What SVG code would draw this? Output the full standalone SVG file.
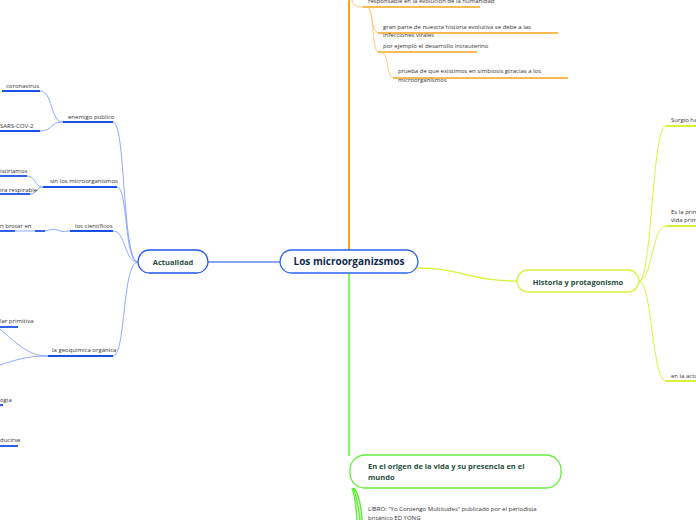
<svg xmlns="http://www.w3.org/2000/svg" width="696" height="520" viewBox="0 0 696 520">
<style>
text{font-family:"Open Sans","Noto Sans","Liberation Sans",sans-serif}
.lbl{font-size:6px;fill:#333}
.node{fill:#fff;stroke-width:1.3}
.title{font-weight:bold;fill:#1f4d3c}
.c{fill:none}
.b1{stroke:#7f9fff;stroke-width:0.9}
.bu{stroke:#1a4fe8;stroke-width:1.8}
.o1{stroke:#f7a21b;stroke-width:2}
.o2{stroke:#ffc97a;stroke-width:1}
.ou{stroke:#f7a21b;stroke-width:1.6}
.y1{stroke:#dcf23c;stroke-width:1}
.yu{stroke:#d4f020;stroke-width:1.8}
.g1{stroke:#62ee3a;stroke-width:1.5}
</style>
<rect width="696" height="520" fill="#fff"/>
<g id="connectors">
<path class="c o1" d="M349,250 V0"/>
<path class="c o2" d="M352,0 C352,5 356,7 363,7"/>
<path class="c ou" d="M363,7 H480"/>
<path class="c o2" d="M368,8 C373,10 371,31 378,33"/>
<path class="c o2" d="M368,8 C374,10 372,50 378,52"/>
<path class="c ou" d="M378,33 H558"/>
<path class="c ou" d="M378,52 H477"/>
<path class="c o2" d="M383,53 C389,55 386,76 393,78"/>
<path class="c ou" d="M393,78 H568"/>
<path class="c g1" d="M349,273 V456"/>
<path class="c g1" d="M352,488 C355,495 356,505 357,520"/>
<path class="c g1" d="M353,488 C357,495 358,505 360,520"/>
<path class="c g1" d="M354,488 C359,494 361,505 362,520"/>
<path class="c bu" d="M208,262 H280" style="stroke-width:1.2"/>
<path class="c y1" d="M418,268 C460,268 470,281 517,281" style="stroke-width:1.4"/>
<path class="c b1" d="M113,122 C126,122 122,262 138,262"/>
<path class="c b1" d="M117,187 C128,187 124,262 138,262"/>
<path class="c b1" d="M113,231 C126,231 124,262 138,262"/>
<path class="c b1" d="M113,356 C126,356 122,262 138,262"/>
<path class="c bu" d="M63,122 H113"/>
<path class="c bu" d="M43,187 H117"/>
<path class="c bu" d="M70,231 H113"/>
<path class="c bu" d="M48,356 H113"/>
<path class="c b1" d="M40,91 C53,91 50,122 63,122"/>
<path class="c b1" d="M40,131 C53,131 50,122 63,122"/>
<path class="c b1" d="M27,176 C36,176 34,187 43,187"/>
<path class="c b1" d="M30,194 C37,194 36,187 43,187"/>
<path class="c b1" d="M15,231 H35"/>
<path class="c b1" d="M45,231 C52,229 56,229 60,231 C63,232 66,231 70,231"/>
<path class="c b1" d="M0,329 C18,344 28,356 48,356"/>
<path class="c b1" d="M0,365 C16,360 26,356 48,356"/>
<path class="c bu" d="M2,91 H40"/>
<path class="c bu" d="M0,131 H40"/>
<path class="c bu" d="M0,176 H27"/>
<path class="c bu" d="M0,194 H30"/>
<path class="c bu" d="M0,231 H15"/>
<path class="c bu" d="M35,231 H45"/>
<path class="c bu" d="M0,327 H18"/>
<path class="c bu" d="M0,405 H3"/>
<path class="c bu" d="M0,446 H18"/>
<path class="c y1" d="M639,281 C652,281 652,126 666,126"/>
<path class="c y1" d="M639,281 C652,281 652,226 666,226"/>
<path class="c y1" d="M639,281 C652,281 652,381 666,381"/>
<path class="c yu" d="M666,126 H696"/>
<path class="c yu" d="M666,226 H696"/>
<path class="c yu" d="M666,381 H696"/>
</g>
<g id="central">
<rect class="node" x="280" y="250" width="138" height="23" rx="11.5" stroke="#2b63ee"/>
<text x="349" y="265" text-anchor="middle" font-size="10" font-weight="bold" fill="#10284f">Los microorganizsmos</text>
</g>
<g id="actualidad">
<rect class="node" x="138" y="250" width="70" height="23" rx="11.5" stroke="#2255ee"/>
<text class="title" x="173" y="265" text-anchor="middle" font-size="7.5">Actualidad</text>
</g>
<g id="historia">
<rect class="node" x="517" y="270" width="122" height="22" rx="11" stroke="#dcf23c"/>
<text class="title" x="578" y="284.5" text-anchor="middle" font-size="7.5">Historia y protagonismo</text>
</g>
<g id="origen">
<rect class="node" x="350" y="455" width="211" height="33" rx="15" stroke="#62ee3a"/>
<text class="title" x="368" y="469" font-size="7.5">En el origen de la vida y su presencia en el</text>
<text class="title" x="368" y="480" font-size="7.5">mundo</text>
</g>
<g id="labels">
<text class="lbl" x="368" y="3">responsable en la evolución de la humanidad</text>
<text class="lbl" x="383" y="29">gran parte de nuestra historia evolutiva se debe a las</text>
<text class="lbl" x="383" y="37">infecciones virales</text>
<text class="lbl" x="383" y="48">por ejemplo el desarrollo intrauterino</text>
<text class="lbl" x="398" y="73">prueba de que existimos en simbiosis gtracias a los</text>
<text class="lbl" x="398" y="82">microorganismos</text>
<text class="lbl" x="368" y="511">LIBRO: "Yo Contengo Multitudes" publicado por el periodista</text>
<text class="lbl" x="368" y="520">británico ED YONG</text>
<text class="lbl" x="6" y="88">coronavirus</text>
<text class="lbl" x="68" y="119">enemigo publico</text>
<text class="lbl" x="0" y="128">SARS-COV-2</text>
<text class="lbl" x="0" y="173">istiriamos</text>
<text class="lbl" x="50" y="183">sin los microorganismos</text>
<text class="lbl" x="0" y="192">ira respirable</text>
<text class="lbl" x="0" y="228">n brotar en</text>
<text class="lbl" x="75" y="228">los científicos</text>
<text class="lbl" x="0" y="323">lar primitiva</text>
<text class="lbl" x="52" y="352">la geoquímica orgánica</text>
<text class="lbl" x="0" y="402">ogia</text>
<text class="lbl" x="0" y="442">ducirse</text>
<text class="lbl" x="671" y="122">Surgio ha</text>
<text class="lbl" x="671" y="214">Es la prim</text>
<text class="lbl" x="671" y="222">vida prim</text>
<text class="lbl" x="671" y="378">en la actu</text>
</g>
</svg>
